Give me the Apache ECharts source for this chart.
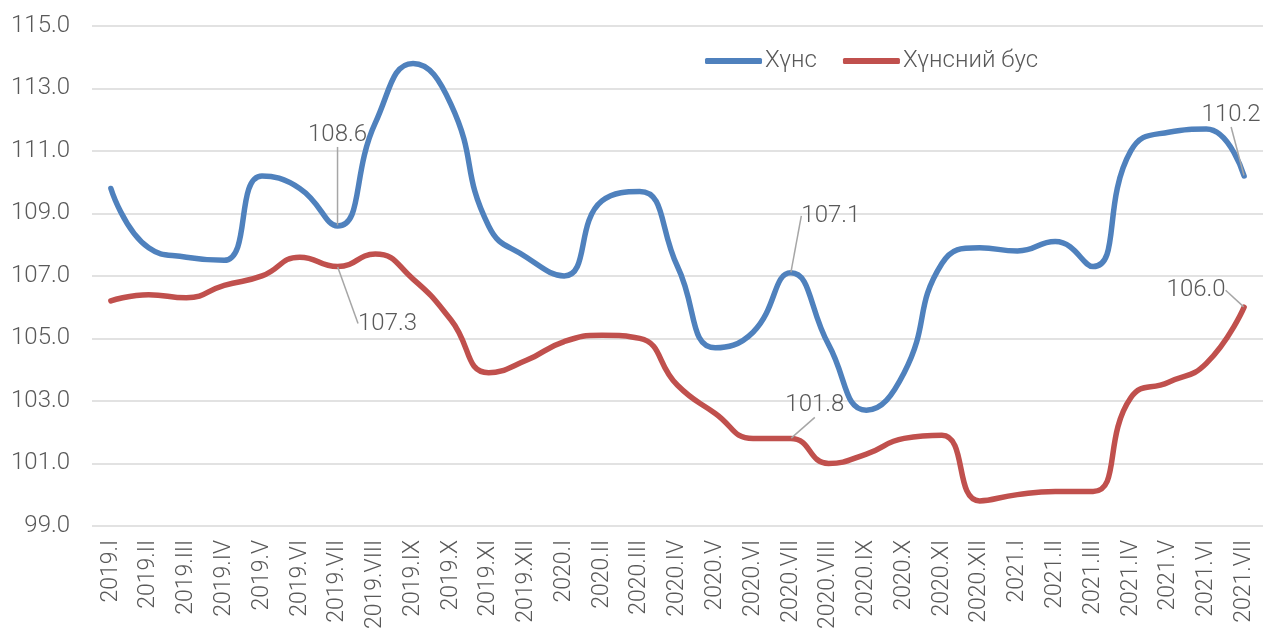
<html>
<head>
	<meta charset="utf-8">
	<title>Хүнс / Хүнсний бус</title>
	<script src="https://cdn.jsdelivr.net/npm/echarts@6/dist/echarts.min.js"></script>
	<style type="text/css">
		html, body { margin: 0; padding: 0; background: #fff; }
	</style>
</head>
	<body>
		<div id="eCharts-container" style="width:1263px;height:632px"></div>
	<script type="text/javascript">
		// ангилал (сар)
		var categories = ['2019.I','2019.II','2019.III','2019.IV','2019.V','2019.VI','2019.VII','2019.VIII','2019.IX','2019.X','2019.XI','2019.XII',
			'2020.I','2020.II','2020.III','2020.IV','2020.V','2020.VI','2020.VII','2020.VIII','2020.IX','2020.X','2020.XI','2020.XII',
			'2021.I','2021.II','2021.III','2021.IV','2021.V','2021.VI','2021.VII'];
		var food = [109.8,107.9,107.6,107.5,110.2,109.8,108.6,111.9,113.8,112.5,108.6,107.6,
			107.0,109.4,109.7,107.3,104.7,105.2,107.1,104.8,102.7,103.9,107.4,107.9,
			107.8,108.1,107.3,111.0,111.6,111.7,110.2];
		var nonFood = [106.2,106.4,106.3,106.7,107.0,107.6,107.3,107.7,106.9,105.6,103.9,104.3,
			104.9,105.1,105.0,103.5,102.6,101.8,101.8,101.0,101.3,101.8,101.9,99.8,
			100.0,100.1,100.1,103.1,103.6,104.2,106.0];
		var seriesNames = ['Хүнс', 'Хүнсний бус'];
		var labeledIdx = [6, 18, 30];
		// шошгоны шилжилт [dx, dy]
		var labelOffsets = [
			{6: [0, -91], 18: [40, -57], 30: [-13, -61]},
			{6: [50, 57], 18: [24, -33], 30: [-48, -17]}
		];
		var colors = ['#4f81bd', '#c0504d'];
		var textColor = '#595959';
		var fontFamily = 'Roboto, "Noto Sans", sans-serif';

		function buildData(values) {
			var out = [];
			for (var x = 0; x < values.length; x++) {
				var item = {value: values[x]};
				if (labeledIdx.indexOf(x) >= 0) {
					item.label = {show: true};
					item.labelLine = {show: true};
				}
				out.push(item);
			}
			return out;
		}

		var myChart = echarts.init(document.getElementById('eCharts-container'));
		var series_data = [];
		var allValues = [food, nonFood];
		for (var s = 0; s < 2; s++) {
			(function (s) {
				series_data.push({
					name: seriesNames[s],
					type: 'line',
					smooth: 0.5,
					symbol: 'circle',
					symbolSize: 1,
					showSymbol: true,
					showAllSymbol: true,
					data: buildData(allValues[s]),
					lineStyle: {color: colors[s], width: 5.5, cap: 'round'},
					itemStyle: {color: colors[s]},
					label: {
						show: false,
						position: 'inside',
						color: textColor,
						fontSize: 24,
						fontFamily: fontFamily,
						fontWeight: 300,
						formatter: function (p) { return p.value.toFixed(1); }
					},
					labelLine: {show: false, lineStyle: {color: '#a6a6a6', width: 1.5}},
					labelLayout: function (params) {
						var off = labelOffsets[s][params.dataIndex];
						if (!off) return {};
						return {dx: off[0], dy: off[1]};
					}
				});
			})(s);
		}

		var option = {
			animation: false,
			backgroundColor: '#ffffff',
			grid: {left: 92, right: -7, top: 26, bottom: 105},
			legend: {
				data: seriesNames,
				left: 700,
				top: 44,
				icon: 'roundRect',
				itemWidth: 57,
				itemHeight: 6,
				itemGap: 26,
				textStyle: {color: textColor, fontSize: 24, fontFamily: fontFamily, fontWeight: 300, padding: [0, 0, 0, -2]}
			},
			xAxis: {
				type: 'category',
				boundaryGap: true,
				data: categories,
				axisLine: {show: false},
				axisTick: {show: false},
				axisLabel: {
					interval: 0,
					rotate: 90,
					margin: 14,
					color: textColor,
					fontSize: 23,
					fontFamily: fontFamily,
					fontWeight: 300
				}
			},
			yAxis: {
				type: 'value',
				min: 99,
				max: 115,
				interval: 2,
				axisLine: {show: false},
				axisTick: {show: false},
				splitLine: {lineStyle: {color: '#d9d9d9', width: 1.5}},
				axisLabel: {
					margin: 22,
					color: textColor,
					fontSize: 24,
					fontFamily: fontFamily,
					fontWeight: 300,
					formatter: function (v) { return v.toFixed(1); }
				}
			},
			series: series_data
		};
		myChart.setOption(option);
	</script>
	</body>
</html>
